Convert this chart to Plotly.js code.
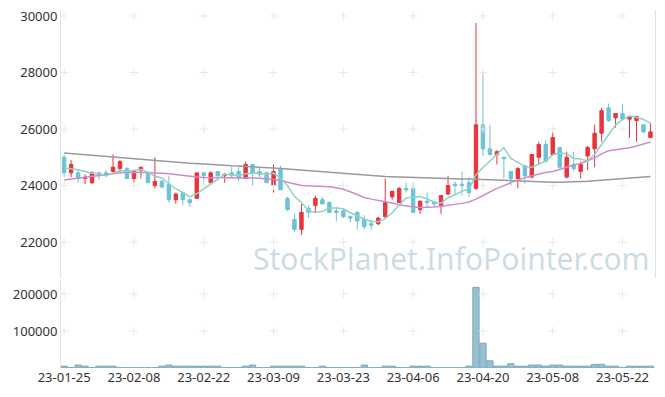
<!DOCTYPE html>
<html>
<head>
<meta charset="utf-8">
<script src="https://cdn.plot.ly/plotly-3.0.1.min.js"></script>
<style>html,body{margin:0;padding:0;background:#fff;}#chart{width:665px;height:397px;}</style>
</head>
<body>
<div id="chart"></div>
<script>
const dates = ["23-01-25","23-01-26","23-01-27","23-01-30","23-01-31","23-02-01","23-02-02","23-02-03","23-02-06","23-02-07",
"23-02-08","23-02-09","23-02-10","23-02-13","23-02-14","23-02-15","23-02-16","23-02-17","23-02-20","23-02-21",
"23-02-22","23-02-23","23-02-24","23-02-27","23-02-28","23-03-02","23-03-03","23-03-06","23-03-07","23-03-08",
"23-03-09","23-03-10","23-03-13","23-03-14","23-03-15","23-03-16","23-03-17","23-03-20","23-03-21","23-03-22",
"23-03-23","23-03-24","23-03-27","23-03-28","23-03-29","23-03-30","23-03-31","23-04-03","23-04-04","23-04-05",
"23-04-06","23-04-07","23-04-10","23-04-11","23-04-12","23-04-13","23-04-14","23-04-17","23-04-18","23-04-19",
"23-04-20","23-04-21","23-04-24","23-04-25","23-04-26","23-04-27","23-04-28","23-05-02","23-05-03","23-05-04",
"23-05-08","23-05-09","23-05-10","23-05-11","23-05-12","23-05-15","23-05-16","23-05-17","23-05-18","23-05-19",
"23-05-22","23-05-23","23-05-24","23-05-25","23-05-26"];

const open = [25000,24450,24450,24250,24100,24450,24450,24500,24600,24600,
24250,24550,24450,24000,24150,24050,23500,23750,23500,23550,
24450,24100,24500,24350,24450,24500,24250,24750,24500,24450,
24000,24600,23550,22800,22450,23200,23300,23500,23400,23100,
23100,22900,23050,22800,22650,22650,22900,23600,23400,23900,
23900,23150,23450,23400,23300,23700,24050,24050,24100,23900,
26150,25300,25100,25000,24500,24250,24700,24300,25000,25450,
25100,25350,24300,24750,24500,25050,25300,25850,26750,26400,
26550,26350,26300,26150,25700];
const high = [25100,24900,24600,24400,24500,24500,24550,25100,24900,24650,
24550,24650,24500,25000,24200,24350,23750,23750,23550,24450,
24450,24500,24500,24450,24650,24650,24850,24750,24650,24500,
24750,24700,23600,23000,23350,23300,23650,23600,23450,23250,
23200,22950,23100,22950,22800,22900,24250,23800,23950,24100,
24100,23450,23750,23450,23650,24350,24150,24500,24300,29750,
28000,26150,25250,25000,24500,24650,24700,25100,25550,25600,
25900,25350,25200,25200,24850,25400,26150,26750,26900,26550,
26900,26450,26450,26150,26200];
const low = [24300,24300,24100,24050,24050,24200,24300,24450,24450,24250,
24100,24250,24100,23900,23900,23400,23350,23300,23250,23550,
24000,24100,24250,24100,24250,24150,24250,24000,24300,24100,
23750,23850,23100,22350,22250,22850,23050,23350,23050,22750,
22850,22700,22450,22450,22450,22600,22850,23500,23400,23750,
23050,23000,23200,23250,23000,23650,23650,23650,23600,23850,
25050,25050,24750,24250,24000,23900,24050,24250,24750,24850,
25050,24600,24250,24500,24250,24550,24650,25550,26250,26050,
26350,25700,25550,25850,25700];
const close = [24450,24750,24250,24300,24450,24350,24400,24650,24850,24250,
24500,24650,24100,24150,23950,23500,23700,23500,23400,24450,
24350,24450,24350,24400,24350,24250,24750,24450,24400,24100,
24500,23850,23150,22450,23050,23050,23550,23350,23050,23050,
22900,22850,22750,22550,22600,22850,23400,23800,23900,23850,
23050,23450,23400,23350,23650,24000,24000,24000,23750,26150,
25300,25100,25200,24950,24250,24600,24350,25100,25450,24850,
25700,24650,25000,24600,24750,25350,25850,26650,26300,26550,
26350,26450,26450,25900,25900];
const volume = [5000,1000,8000,5000,1000,5000,5000,5000,1000,1000,
1000,1000,1000,1000,5000,8000,5000,5000,5000,5000,
5000,5000,5000,1000,1000,1000,5000,8000,1000,1000,
5000,5000,5000,5000,5000,1000,1000,5000,1000,1000,
1000,1000,1000,8000,1000,1000,5000,5000,1000,1000,
5000,5000,5000,1000,1000,1000,1000,1000,5000,218000,
67000,19500,5000,5000,11500,5000,5000,8000,8000,5000,
8000,8000,5000,5000,5000,5000,10000,10000,5000,5000,
1000,5000,5000,5000,5000];
const ma5 = [24630,24600,24560,24500,24440,24420,24350,24430,24540,24500,
24530,24580,24470,24330,24270,24070,23880,23760,23610,23710,
23880,24030,24200,24400,24380,24360,24420,24440,24440,24390,
24440,24260,24000,23610,23400,23110,23050,23090,23210,23210,
23180,23040,22920,22820,22730,22720,22830,23040,23310,23560,
23600,23610,23530,23420,23380,23570,23680,23800,23880,24380,
24640,24860,25100,25340,24960,24820,24670,24650,24750,24870,
25090,25150,25130,24960,24940,24870,25110,25440,25780,26140,
26340,26460,26420,26340,26210];
const ma20 = [24200,24230,24260,24290,24330,24370,24400,24430,24450,24460,
24470,24470,24460,24460,24440,24420,24390,24350,24310,24300,
24290,24290,24280,24280,24280,24280,24270,24270,24260,24240,
24230,24190,24120,24050,24000,23990,23980,23980,23960,23920,
23870,23780,23690,23580,23520,23480,23420,23380,23320,23270,
23240,23220,23220,23240,23270,23300,23330,23370,23420,23520,
23650,23780,23900,24000,24110,24200,24280,24350,24410,24460,
24500,24570,24660,24730,24780,24880,24980,25120,25230,25270,
25300,25340,25400,25470,25540];
const maLong = [25150,25130,25110,25090,25070,25050,25030,25010,24990,24970,
24950,24930,24910,24890,24860,24830,24820,24800,24790,24780,
24760,24750,24730,24720,24700,24690,24680,24660,24650,24630,
24620,24600,24580,24560,24540,24520,24500,24480,24460,24440,
24420,24400,24380,24360,24340,24330,24320,24310,24300,24290,
24280,24270,24260,24260,24250,24240,24240,24230,24230,24220,
24200,24190,24180,24170,24160,24150,24140,24140,24130,24130,
24120,24120,24120,24130,24140,24150,24170,24180,24200,24220,
24240,24260,24280,24300,24320];
const priceTicks = [22000,24000,26000,28000,30000];
const volTicks = [100000,200000];
const tickEvery = 10;

const xTickVals = dates.filter((d,i)=>i%tickEvery===0);

const cx=[],cy=[],vx=[],vy=[];
xTickVals.forEach(d=>{priceTicks.forEach(p=>{cx.push(d);cy.push(p);});volTicks.forEach(v=>{vx.push(d);vy.push(v);});});

const traces = [
 {type:'candlestick',x:dates,open:open,high:high,low:low,close:close,xaxis:'x',yaxis:'y',
  increasing:{line:{color:'#e8343c',width:1},fillcolor:'#e8343c'},
  decreasing:{line:{color:'#6cc3d7',width:1},fillcolor:'#6cc3d7'},showlegend:false},
 {type:'scatter',mode:'markers',x:cx,y:cy,xaxis:'x',yaxis:'y',marker:{symbol:'cross-thin',size:6,line:{color:'#e8e8e8',width:1}},hoverinfo:'skip',showlegend:false},
 {type:'scatter',mode:'markers',x:vx,y:vy,xaxis:'x',yaxis:'y2',marker:{symbol:'cross-thin',size:6,line:{color:'#e8e8e8',width:1}},hoverinfo:'skip',showlegend:false},
 {type:'scatter',mode:'lines',x:dates,y:maLong,line:{color:'#9a9a9a',width:1.5},showlegend:false},
 {type:'scatter',mode:'lines',x:dates,y:ma20,line:{color:'#cf8bcb',width:1.5},showlegend:false},
 {type:'scatter',mode:'lines',x:dates,y:ma5,line:{color:'#8ed2c8',width:1.5},showlegend:false},
 {type:'bar',x:dates,y:volume,xaxis:'x',yaxis:'y2',marker:{color:'#98c0d0',line:{color:'#7aa9bd',width:1}},width:0.9,showlegend:false}
];

const layout = {
 width:665,height:397,
 margin:{l:61,r:10,t:10,b:29},
 paper_bgcolor:'#fff',plot_bgcolor:'#fff',
 font:{family:'Noto Sans, sans-serif',size:13,color:'#333'},
 showlegend:false,
 xaxis:{type:'category',categoryorder:'array',categoryarray:dates,anchor:'y2',range:[-0.45,84.65],
   tickmode:'array',tickvals:xTickVals,ticktext:xTickVals,
   showgrid:false,zeroline:false,showline:false,ticks:'',rangeslider:{visible:false},tickfont:{size:13,color:'#333'}},
 yaxis:{domain:[0.251,1],range:[20725,30212],tickvals:priceTicks,tickformat:'d',showgrid:false,zeroline:false,
   showline:true,linecolor:'#e3e3e3',mirror:true,ticks:'',tickfont:{size:13,color:'#333'}},
 yaxis2:{domain:[0,0.246],range:[0,238000],tickvals:volTicks,tickformat:'d',showgrid:false,zeroline:false,
   showline:true,linecolor:'#e3e3e3',ticks:'',tickfont:{size:13,color:'#333'}},
 annotations:[{text:'StockPlanet.InfoPointer.com',xref:'paper',yref:'paper',x:0.995,y:0.305,xanchor:'right',yanchor:'middle',
   showarrow:false,font:{size:30,color:'rgba(140,175,200,0.45)',family:'Noto Sans, sans-serif'}}],
 bargap:0.1
};
Plotly.newPlot('chart',traces,layout,{displayModeBar:false,staticPlot:true});
</script>
</body>
</html>
